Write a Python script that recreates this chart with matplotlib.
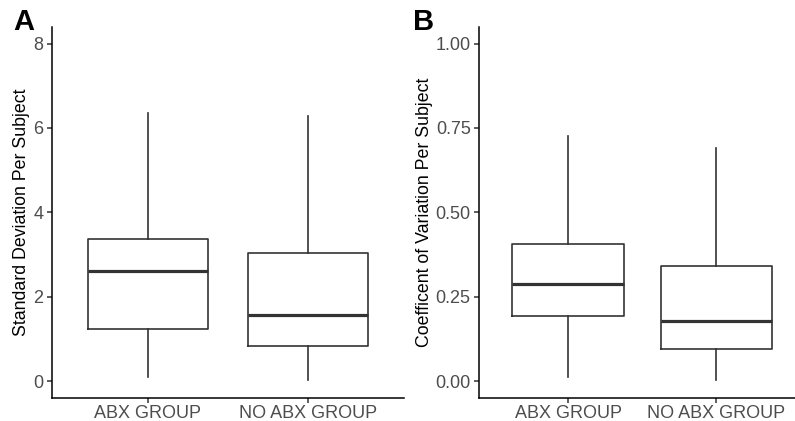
import matplotlib
matplotlib.use("Agg")
import matplotlib.pyplot as plt

plt.rcParams['font.family'] = ['Liberation Sans', 'DejaVu Sans']

groups = ['ABX GROUP', 'NO ABX GROUP']

# panel A: standard deviation per subject
sd_low = [0.09, 0.02]
sd_q1 = [1.24, 0.83]
sd_med = [2.62, 1.57]
sd_q3 = [3.37, 3.04]
sd_high = [6.36, 6.29]

# panel B: coefficient of variation per subject
cv_low = [0.012, 0.002]
cv_q1 = [0.192, 0.096]
cv_med = [0.288, 0.179]
cv_q3 = [0.406, 0.342]
cv_high = [0.726, 0.690]

sd_ticks = [0, 2, 4, 6, 8]
cv_ticks = [0.0, 0.25, 0.5, 0.75, 1.0]

line_col = '#333333'
tick_col = '#4D4D4D'


def make_stats(low, q1, med, q3, high):
    return [dict(whislo=a, q1=b, med=c, q3=d, whishi=e, fliers=[])
            for a, b, c, d, e in zip(low, q1, med, q3, high)]


def draw_panel(ax, stats, ticks, tick_fmt, ylabel, label_x):
    ax.bxp(stats, positions=[1, 2], widths=0.75, showfliers=False, showcaps=False,
           boxprops=dict(color=line_col, linewidth=1.2),
           whiskerprops=dict(color=line_col, linewidth=1.2),
           medianprops=dict(color=line_col, linewidth=2.3))
    ax.set_xlim(0.4, 2.6)
    lo, hi = ticks[0], ticks[-1]
    pad = (hi - lo) * 0.05
    ax.set_ylim(lo - pad, hi + pad)
    ax.set_yticks(ticks)
    ax.set_yticklabels([tick_fmt(t) for t in ticks])
    ax.set_xticks([1, 2])
    ax.set_xticklabels(groups)
    for s in ['top', 'right']:
        ax.spines[s].set_visible(False)
    for s in ['left', 'bottom']:
        ax.spines[s].set_color('black')
        ax.spines[s].set_linewidth(1.1)
    ax.tick_params(colors=line_col, labelcolor=tick_col, labelsize=13, length=3.5, width=1.1)
    ax.tick_params(axis='x', pad=1.5)
    ax.tick_params(axis='y', pad=2.5)
    ax.set_ylabel(ylabel, fontsize=12.8, color='black', va='center')
    ax.yaxis.set_label_coords(label_x, 0.5)


fig = plt.figure(figsize=(7.95, 4.21), dpi=100)
ax1 = fig.add_axes([0.065, 0.0546, 0.4428, 0.882])
ax2 = fig.add_axes([0.6025, 0.0546, 0.4107, 0.882])

draw_panel(ax1, make_stats(sd_low, sd_q1, sd_med, sd_q3, sd_high), sd_ticks,
           lambda t: f'{t:g}', 'Standard Deviation Per Subject', -0.086)
draw_panel(ax2, make_stats(cv_low, cv_q1, cv_med, cv_q3, cv_high), cv_ticks,
           lambda t: f'{t:.2f}', 'Coefficent of Variation Per Subject', -0.168)

fig.text(0.017, 0.947, 'A', fontsize=21, fontweight='bold', ha='left', va='center')
fig.text(0.520, 0.947, 'B', fontsize=21, fontweight='bold', ha='left', va='center')

fig.savefig('out.png', dpi=100)
